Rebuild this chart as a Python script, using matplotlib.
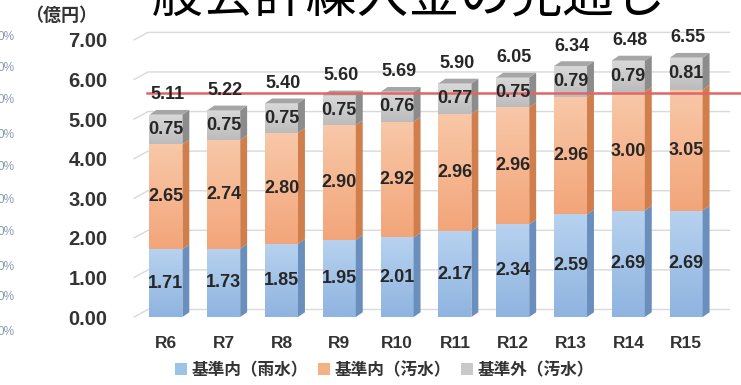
import numpy as np
import matplotlib
matplotlib.use('Agg')
import matplotlib.pyplot as plt
from matplotlib.patches import Polygon, Patch
from matplotlib.colors import LinearSegmentedColormap

plt.rcParams['font.family'] = ['Liberation Sans', 'Noto Sans CJK JP', 'DejaVu Sans']

years = ['R6', 'R7', 'R8', 'R9', 'R10', 'R11', 'R12', 'R13', 'R14', 'R15']
rain_in = [1.71, 1.73, 1.85, 1.95, 2.01, 2.17, 2.34, 2.59, 2.69, 2.69]
sewage_in = [2.65, 2.74, 2.80, 2.90, 2.92, 2.96, 2.96, 2.96, 3.00, 3.05]
sewage_out = [0.75, 0.75, 0.75, 0.75, 0.76, 0.77, 0.75, 0.79, 0.79, 0.81]
totals = [5.11, 5.22, 5.40, 5.60, 5.69, 5.90, 6.05, 6.34, 6.48, 6.55]
ref_level = 5.65
names = ['基準内（雨水）', '基準内（汚水）', '基準外（汚水）']
title = '一般会計繰入金の見通し'
unit = '（億円）'

# (light top, darker bottom, side, legend)
styles = [
    ('#b7d2ef', '#8fb4e0', '#6a8fbd', '#9dc3e6'),
    ('#f8c8a8', '#f3a57a', '#d07e4c', '#f4b183'),
    ('#d9d9d9', '#bcbcbc', '#8c8c8c', '#c9c9c9'),
]
top_face = '#a6a6a6'
cjk = ['Noto Sans CJK JP', 'DejaVu Sans']

fig = plt.figure(figsize=(7.41, 3.85), dpi=100)
ax = fig.add_axes([0.181, 0.1766, 0.8035, 0.7455])
xl, xr = -0.55, 9.75
ax.set_xlim(xl, xr)
ax.set_ylim(0, 7.25)

# back wall gridlines (3d look)
gdx, gdy = 0.24, 0.19
for v in range(8):
    ax.plot([xl, xl + gdx, xr], [v, v + gdy, v + gdy], color='#d9d9d9', lw=1,
            zorder=0, clip_on=False)

x = np.arange(len(years))
w = 0.57
ddx, ddy = 0.12, 0.12
bottom = np.zeros(len(years))
grad = np.linspace(0, 1, 64).reshape(-1, 1)
for vals, (c_top, c_bot, c_side, c_leg) in zip([rain_in, sewage_in, sewage_out], styles):
    vals = np.array(vals)
    cmap = LinearSegmentedColormap.from_list('g', [c_bot, c_top])
    bars = ax.bar(x, vals, width=w, bottom=bottom, color=c_leg, edgecolor='none', zorder=2)
    for xi, b0, h, rect in zip(x, bottom, vals, bars):
        x0, x1 = xi - w / 2, xi + w / 2
        im = ax.imshow(grad, cmap=cmap, extent=[x0, x1, b0, b0 + h], origin='lower',
                       aspect='auto', zorder=2.1, interpolation='bilinear')
        im.set_clip_path(rect)
        ax.add_patch(Polygon([(x1, b0), (x1 + ddx, b0 + ddy), (x1 + ddx, b0 + h + ddy), (x1, b0 + h)],
                             closed=True, facecolor=c_side, edgecolor='none', zorder=2.2))
        ax.text(xi, b0 + h / 2, f'{h:.2f}', ha='center', va='center', fontsize=13,
                fontweight='bold', color='#262626', zorder=5)
    bottom = bottom + vals

for xi, t in zip(x, totals):
    x0, x1 = xi - w / 2, xi + w / 2
    ax.add_patch(Polygon([(x0, t), (x0 + ddx, t + ddy), (x1 + ddx, t + ddy), (x1, t)],
                         closed=True, facecolor=top_face, edgecolor='none', zorder=2.3))
    ax.text(xi + 0.03, t + 0.5, f'{t:.2f}', ha='center', va='center', fontsize=13,
            fontweight='bold', color='#262626', zorder=5)

ax.set_xlim(xl, xr)
ax.set_ylim(0, 7.25)

ax.axhline(ref_level, xmin=0.0215, xmax=1.02, color='#e06666', lw=1.8, zorder=4, clip_on=False)

ax.set_yticks(range(8))
ax.set_yticklabels([f'{v:.2f}' for v in range(8)], fontsize=14.5, fontweight='bold', color='#333333')
ax.set_xticks(x)
ax.set_xticklabels(years, fontsize=12.5, fontweight='bold', color='#333333')
ax.tick_params(axis='y', length=0, pad=19)
ax.tick_params(axis='x', length=0, pad=14)
for s in ax.spines.values():
    s.set_visible(False)

handles = [Patch(facecolor=s[3], edgecolor='none') for s in styles]
fig.legend(handles, names, loc='center', bbox_to_anchor=(0.519, 0.039), ncol=3, frameon=False,
           prop={'family': cjk, 'size': 12, 'weight': 'bold'},
           handlelength=0.7, handleheight=0.7, handletextpad=0.3, columnspacing=0.6,
           labelcolor='#333333')

fig.text(25 / 741, 1 - 15 / 385, unit, ha='left', va='center', fontsize=13,
         family=cjk, color='#333333', fontweight='bold')
fig.text(101 / 741, 1 - 13 / 385, title, ha='left', va='baseline', fontsize=37,
         family=cjk, color='black')

# faint cut-off axis labels at the left edge
for yp in [37, 68, 100, 135, 167, 200, 232, 267, 297, 332]:
    fig.text(-3 / 741, 1 - yp / 385, '0%', ha='left', va='center', fontsize=8.5,
             color='#8a9ab5')

fig.savefig('out.png', dpi=100)
